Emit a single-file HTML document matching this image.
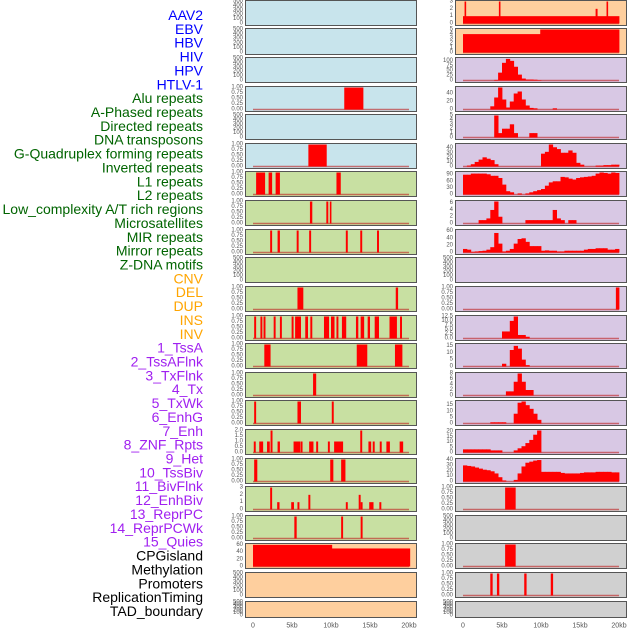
<!DOCTYPE html>
<html><head><meta charset="utf-8"><style>
html,body{margin:0;padding:0;background:#fff;}
svg{display:block;font-family:"Liberation Sans",sans-serif;}
</style></head><body>
<svg id="chart" width="630" height="630" viewBox="0 0 630 630" xmlns="http://www.w3.org/2000/svg"></svg>
<script>
// ---- labels ----
const labelTexts = ["AAV2","EBV","HBV","HIV","HPV","HTLV-1","Alu repeats","A-Phased repeats","Directed repeats","DNA transposons","G-Quadruplex forming repeats","Inverted repeats","L1 repeats","L2 repeats","Low_complexity A/T rich regions","Microsatellites","MIR repeats","Mirror repeats","Z-DNA motifs","CNV","DEL","DUP","INS","INV","1_TssA","2_TssAFlnk","3_TxFlnk","4_Tx","5_TxWk","6_EnhG","7_Enh","8_ZNF_Rpts","9_Het","10_TssBiv","11_BivFlnk","12_EnhBiv","13_ReprPC","14_ReprPCWk","15_Quies","CPGisland","Methylation","Promoters","ReplicationTiming","TAD_boundary"];
const labelGroups = [6,13,5,15,5];
const groupColors = ["#0000ff","#006400","#ffa500","#a020f0","#000000"];

// ---- axis tick sets ----
const tEmpty = [0,100,200,300,400,500];
const tUnit = [0,0.25,0.5,0.75,1];
const xTickKb = [0,5,10,15,20];
const xTickLabels = ["0","5kb","10kb","15kb","20kb"];

// ---- left panels: interval data (start kb, end kb, value) ----
const L4s=[11.7], L4e=[14.1], L4v=[1];
const L6s=[7.1], L6e=[9.4], L6v=[1];
const L7s=[0.4,2.0,2.9,10.7], L7e=[1.5,2.4,3.4,11.2], L7v=[1,1,1,1];
const L8s=[7.3,9.4,9.85], L8e=[7.55,9.6,10.0], L8v=[1,1,1];
const L9s=[2.2,3.15,5.6,7.2,11.9,13.75,15.9], L9e=[2.4,3.4,5.8,7.4,12.1,13.95,16.1], L9v=[1,1,1,1,1,1,1];
const L11s=[5.7,18.3], L11e=[6.4,18.55], L11v=[1,1];
const L12s=[0.15,0.95,1.35,2.65,3.45,4.95,5.4,6.7,7.35,9.1,10.0,10.7,11.4,13.2,13.8,14.7,15.6,17.5,18.85];
const L12e=[0.35,1.15,1.55,2.85,3.65,5.15,6.1,7.0,7.55,9.7,10.4,10.9,11.9,13.45,14.2,14.95,16.1,18.4,19.05];
const L12v=[1,1,1,1,1,1,1,1,1,1,1,1,1,1,1,1,1,1,1];
const L13s=[1.45,13.3,18.2], L13e=[2.2,14.6,19.1], L13v=[1,1,1];
const L14s=[7.7], L14e=[8.05], L14v=[1];
const L15s=[0.15,5.7,10.1], L15e=[0.35,6.1,10.3], L15v=[1,1,1];
const L16s=[0.1,0.8,1.8,2.25,3.15,5.2,6.1,7.2,8.1,9.6,10.4,13.75,14.8,15.35,16.25,17.1,18.8];
const L16e=[0.3,1.25,2.1,2.45,3.4,6.0,6.3,7.7,8.3,9.8,11.5,13.95,15.1,15.55,16.45,17.5,19.2];
const L16v=[1,1,1,2,1,1,1,1,1,1,1,2,1,1,1,1,1];
const L17s=[0.15,9.9,11.3], L17e=[0.5,10.25,11.8], L17v=[1,1,1];
const L18s=[2.2,3.1,4.9,5.7,7.1,11.9,13.55,13.8,14.9,16.2], L18e=[2.4,3.35,5.2,5.9,7.3,12.1,13.75,14.0,15.4,16.4], L18v=[3,1,1,1,2,1,2,1,1,1];
const L19s=[5.3,11.3,13.8], L19e=[5.55,11.5,14.0], L19v=[1,1,1];
const L20s=[0,10.1], L20e=[10.1,20.1], L20v=[60,50];

// ---- right panels: interval data & binned profiles (0.5 kb bins) ----
const R1s=[0,0.2,4.6,17.0,18.4], R1e=[20,0.35,4.75,17.2,18.55], R1v=[1,3,3,2,3];
const R2s=[0,9.9], R2e=[9.9,20], R2v=[4,5];
const R3bins=[0,0,0,0,0,0,0,0,3,40,90,110,100,70,30,10,5,5,4,2,0,0,0,0,0,0,0,0,0,0,0,0,0,0,0,0,0,0,0,0];
const R4bins=[0,0,0,0,0,0,0,8,30,55,25,5,20,40,45,25,10,4,3,0,0,0,0,3,0,0,0,0,0,0,0,0,0,0,0,0,0,0,0,0];
const R5bins=[0,0,0,0,0,0,0,0,5,1,2,2,3,1,0,0,0,1,1,0,0,0,0,0,0,0,0,0,0,0,0,0,0,0,0,0,0,0,0,0];
const R6bins=[0,2,5,10,15,20,17,14,5,0,0,0,0,0,0,0,0,0,0,0,28,32,48,42,38,30,30,35,30,8,4,0,0,0,2,2,3,3,4,4];
const R7bins=[90,90,95,95,95,95,92,85,85,75,45,15,10,0,5,0,5,10,15,20,25,40,55,60,60,80,78,72,68,75,78,80,82,85,95,100,98,95,100,98];
const R8bins=[0,0,0,0,1,1,1.5,4,6.5,2,0,0,0,0,0,0,1,1,1,1,1,1,1,4,1.5,1,0,1,1,0,0,0,0,0,0,0,0,0,0,0];
const R9bins=[10,8,2,3,4,5,8,15,55,25,3,5,10,25,38,40,30,18,18,18,5,6,5,5,3,3,5,5,5,5,5,8,10,10,12,12,12,8,8,10];
const R11s=[19.6], R11e=[20], R11v=[1];
const R12bins=[0,0,0,0,0,0,0,0,0,0,4,4,10,12.5,2,2,1,0,0,0,0,0,0,0,0,0,0,0,0,0,0,0,0,0,0,0,0,0,0,0];
const R13bins=[0,0,0,0,0,0,0,0,0,0,2,0,12,15,13,5,1,0,0,0,0,0,0,0,0,0,0,0,0,0,0,0,0,0,0,0,0,0,0,0];
const R14bins=[0,0,0,0,0,0,0,0,0,0,0,1.5,1.5,5,8,5,2,2,0,0,0,0,0,0,0,0,0,0,0,0,0,0,0,0,0,0,0,0,0,0];
const R15bins=[0,0,0,0,0,0,0,1,1,1,1,0,0,8,17,18,15,12,8,3,0,0,0,0,0,0,0,0,0,0,0,0,0,0,0,0,0,0,0,0];
const R16bins=[3,3,3,3,3,3,3,2,2,2,0,0,0,2,4,6,9,12,17,21,0,0,0,0,0,0,0,0,0,0,0,0,0,0,0,0,0,0,0,0];
const R17bins=[30,29,28,26,24,22,21,19,15,8,2,0,0,3,15,28,35,37,39,40,18,18,18,18,18,16,15,15,15,15,16,17,17,17,18,18,18,18,17,17];
const R18s=[5.4], R18e=[6.7], R18v=[1];
const R20s=[5.4], R20e=[6.7], R20v=[1];
const R21s=[3.5,4.35,7.85,11.25], R21e=[3.75,4.6,8.1,11.5], R21v=[1,1,1,1];

const BLUE="#c8e4ec", GREEN="#c8e0a2", ORANGE="#fecf9e", PURPLE="#d8c8e4", GRAY="#d0d0d0";
const rowTops=[0,28,57,86,114,143,171,200,229,257,286,315,343,372,400,429,458,486,515,543,572,601];
const rowH=[25,26,25,25,25,25,25,25,25,25,25,25,25,25,25,25,25,25,25,25,25,16];

function iv(s,e,v){return {s:s,e:e,v:v};}
function bins(arr){return {s:arr.map((_,i)=>i*0.5),e:arr.map((_,i)=>i*0.5+0.5),v:arr};}
function fmt(list,dec){return list.map(t=>t.toFixed(dec));}

const left=[
 {bg:BLUE,t:tEmpty,ymax:500},{bg:BLUE,t:tEmpty,ymax:500},{bg:BLUE,t:tEmpty,ymax:500},
 {bg:BLUE,t:tUnit,ymax:1,dec:2,d:iv(L4s,L4e,L4v)},{bg:BLUE,t:tEmpty,ymax:500},
 {bg:BLUE,t:tUnit,ymax:1,dec:2,d:iv(L6s,L6e,L6v)},
 {bg:GREEN,t:tUnit,ymax:1,dec:2,d:iv(L7s,L7e,L7v)},
 {bg:GREEN,t:tUnit,ymax:1,dec:2,d:iv(L8s,L8e,L8v)},
 {bg:GREEN,t:tUnit,ymax:1,dec:2,d:iv(L9s,L9e,L9v)},
 {bg:GREEN,t:tEmpty,ymax:500},
 {bg:GREEN,t:tUnit,ymax:1,dec:2,d:iv(L11s,L11e,L11v)},
 {bg:GREEN,t:tUnit,ymax:1,dec:2,d:iv(L12s,L12e,L12v)},
 {bg:GREEN,t:tUnit,ymax:1,dec:2,d:iv(L13s,L13e,L13v)},
 {bg:GREEN,t:tUnit,ymax:1,dec:2,d:iv(L14s,L14e,L14v)},
 {bg:GREEN,t:tUnit,ymax:1,dec:2,d:iv(L15s,L15e,L15v)},
 {bg:GREEN,t:[0,0.5,1,1.5,2],ymax:2,dec:1,d:iv(L16s,L16e,L16v)},
 {bg:GREEN,t:tUnit,ymax:1,dec:2,d:iv(L17s,L17e,L17v)},
 {bg:GREEN,t:[0,1,2,3],ymax:3,d:iv(L18s,L18e,L18v)},
 {bg:GREEN,t:tUnit,ymax:1,dec:2,d:iv(L19s,L19e,L19v)},
 {bg:ORANGE,t:[0,20,40,60],ymax:61,d:iv(L20s,L20e,L20v)},
 {bg:ORANGE,t:tEmpty,ymax:500},{bg:ORANGE,t:tEmpty,ymax:500}
];
const right=[
 {bg:ORANGE,t:[0,1,2,3],ymax:3,d:iv(R1s,R1e,R1v)},
 {bg:ORANGE,t:[0,1,2,3,4,5],ymax:5,d:iv(R2s,R2e,R2v)},
 {bg:PURPLE,t:[0,25,50,75,100],ymax:112,d:bins(R3bins)},
 {bg:PURPLE,t:[0,20,40],ymax:55,d:bins(R4bins)},
 {bg:PURPLE,t:[0,1,2,3,4,5],ymax:5,d:bins(R5bins)},
 {bg:PURPLE,t:[0,10,20,30,40],ymax:48,d:bins(R6bins)},
 {bg:PURPLE,t:[0,30,60,90],ymax:100,d:bins(R7bins)},
 {bg:PURPLE,t:[0,2,4,6],ymax:6.5,d:bins(R8bins)},
 {bg:PURPLE,t:[0,20,40,60],ymax:62,d:bins(R9bins)},
 {bg:PURPLE,t:tEmpty,ymax:500},
 {bg:PURPLE,t:tUnit,ymax:1,dec:2,d:iv(R11s,R11e,R11v)},
 {bg:PURPLE,t:[0,2.5,5,7.5,10,12.5],ymax:12.5,dec:1,d:bins(R12bins)},
 {bg:PURPLE,t:[0,5,10,15],ymax:16,d:bins(R13bins)},
 {bg:PURPLE,t:[0,2,4,6,8],ymax:8,d:bins(R14bins)},
 {bg:PURPLE,t:[0,5,10,15],ymax:18,d:bins(R15bins)},
 {bg:PURPLE,t:[0,5,10,15,20],ymax:21,d:bins(R16bins)},
 {bg:PURPLE,t:[0,10,20,30,40],ymax:41,d:bins(R17bins)},
 {bg:GRAY,t:tUnit,ymax:1,dec:2,d:iv(R18s,R18e,R18v)},
 {bg:GRAY,t:tEmpty,ymax:500},
 {bg:GRAY,t:tUnit,ymax:1,dec:2,d:iv(R20s,R20e,R20v)},
 {bg:GRAY,t:tUnit,ymax:1,dec:2,d:iv(R21s,R21e,R21v)},
 {bg:GRAY,t:tEmpty,ymax:500}
];

const NS="http://www.w3.org/2000/svg";
const svg=document.getElementById("chart");
function mk(tag,attrs,parent){const el=document.createElementNS(NS,tag);for(const k in attrs)el.setAttribute(k,attrs[k]);(parent||svg).appendChild(el);return el;}
function xScale(kb,x0){return x0+8+kb*7.8;}
function yScale(v,top,h,ymax){return top+h-1.5-(v/ymax)*(h-3);}

// labels
let li=0;
labelGroups.forEach((n,g)=>{for(let k=0;k<n;k++){
  const t=mk("text",{x:203,y:15+li*13.86,"text-anchor":"end","dominant-baseline":"central","font-size":"14",fill:groupColors[g]});
  t.textContent=labelTexts[li];
  
  
  li++;}});

function drawPanel(p,x0,top,h,side,idx){
  const g=mk("g",{});
  
  
  const bg=mk("rect",{x:x0+0.5,y:top+0.5,width:171,height:h,fill:p.bg,stroke:"#555","stroke-width":1},g);
  
  
  const labs=p.dec?fmt(p.t,p.dec):p.t.map(String);
  p.t.forEach((tv,i)=>{
    const tt=mk("text",{x:x0-2,y:yScale(tv,top,h,p.ymax),"text-anchor":"end","dominant-baseline":"central","font-size":"6",fill:"#555"},g);
    tt.textContent=labs[i];
    
    
  });
  if(p.d){
    const base=mk("line",{x1:xScale(0,x0),x2:xScale(20,x0),y1:top+h-1.5,y2:top+h-1.5,stroke:"rgba(190,30,30,0.6)","stroke-width":1.5},g);
    
    
    const d=p.d;
    for(let i=0;i<d.v.length;i++){
      if(!d.v[i])continue;
      const xa=xScale(d.s[i],x0), xb=xScale(d.e[i],x0);
      const ya=yScale(Math.min(d.v[i],p.ymax),top,h,p.ymax);
      const r=mk("rect",{x:xa,y:ya,width:Math.max(1.2,xb-xa)+0.4,height:top+h-1.5-ya,fill:"#ff0000"},g);
      
      
    }
  }
}
left.forEach((p,i)=>drawPanel(p,245,rowTops[i],rowH[i],0,i));
right.forEach((p,i)=>drawPanel(p,455,rowTops[i],rowH[i],1,i));

[245,455].forEach(x0=>{
  xTickKb.forEach((kb,i)=>{
    const t=mk("text",{x:xScale(kb,x0),y:626,"text-anchor":"middle","dominant-baseline":"central","font-size":"7",fill:"#555"});
    t.textContent=xTickLabels[i];
    
    
  });
});
</script>
</body></html>
